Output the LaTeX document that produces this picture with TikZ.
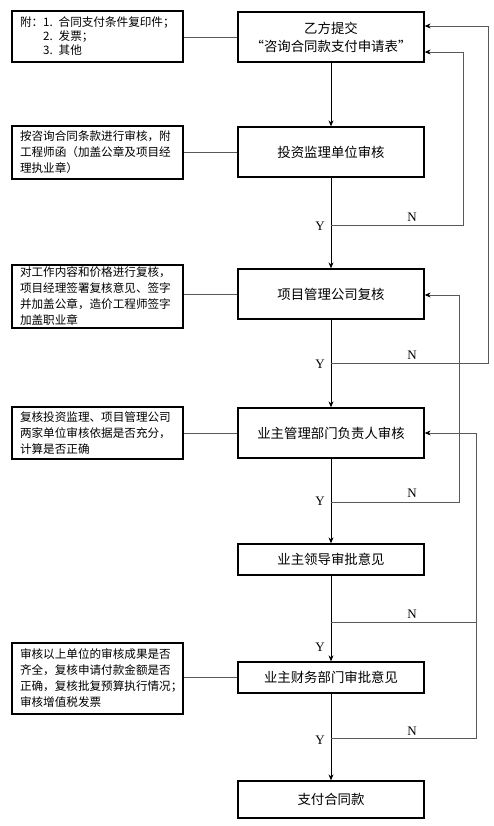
\documentclass[tikz,border=0pt]{standalone}
\usepackage{fontspec}
\setmainfont{Liberation Serif}
\newfontfamily\cjk{Noto Sans CJK SC}
\usetikzlibrary{arrows.meta,calc}
\hbadness=10000 \hfuzz=50pt
\begin{document}
\begin{tikzpicture}[x=1pt,y=-1pt,
 mainbox/.style={draw, line width=1.3pt, minimum width=186pt, inner sep=0pt, font=\cjk\fontsize{13.4}{18}\selectfont, align=center},
 notebox/.style={draw, line width=1.3pt, minimum width=171pt, text width=155pt, inner xsep=8pt, inner ysep=0pt, font=\cjk\fontsize{11.6}{16}\selectfont, align=left},
 flow/.style={line width=0.8pt, -{Stealth[length=6pt,width=5pt]}},
 back/.style={line width=0.7pt, draw=black!65, -{Stealth[length=6pt,width=5pt,color=black]}},
 backline/.style={line width=0.7pt, draw=black!65},
 tie/.style={line width=0.6pt, draw=black!65},
 lbl/.style={font=\fontsize{13}{13}\selectfont, inner sep=0pt}
]
\useasboundingbox (0,0) rectangle (493,826);

% main boxes
\node[mainbox, minimum height=50pt] (b1) at (331,37) {乙方提交\\“咨询合同款支付申请表”};
\node[mainbox, minimum height=50pt] (b2) at (331,152) {投资监理单位审核};
\node[mainbox, minimum height=50pt] (b3) at (331,294) {项目管理公司复核};
\node[mainbox, minimum height=50pt] (b4) at (331,433) {业主管理部门负责人审核};
\node[mainbox, minimum height=31pt] (b5) at (331,559.5) {业主领导审批意见};
\node[mainbox, minimum height=31pt] (b6) at (331,677.5) {业主财务部门审批意见};
\node[mainbox, minimum height=37pt] (b7) at (331,799.5) {支付合同款};

% note boxes
\node[notebox, minimum height=51pt, font=\cjk\fontsize{11.6}{14}\selectfont] (n1) at (97.5,36.5) {附：1. 合同支付条件复印件；\\\hphantom{附：}2. 发票；\\\hphantom{附：}3. 其他};
\node[notebox, minimum height=53pt] (n2) at (97.5,152.5) {按咨询合同条款进行审核，附\\工程师函（加盖公章及项目经\\理执业章）};
\node[notebox, minimum height=63pt] (n3) at (97.5,296.5) {对工作内容和价格进行复核，\\项目经理签署复核意见、签字\\并加盖公章，造价工程师签字\\加盖职业章};
\node[notebox, minimum height=52pt] (n4) at (97.5,433) {复核投资监理、项目管理公司\\两家单位审核依据是否充分，\\计算是否正确};
\node[notebox, minimum height=71pt] (n5) at (97.5,678.5) {审核以上单位的审核成果是否\\齐全，复核申请付款金额是否\\正确，复核批复预算执行情况；\\审核增值税发票};

% ties
\draw[tie] (n1.east |- b1.west) -- (b1.west);
\draw[tie] (n2.east |- b2.west) -- (b2.west);
\draw[tie] (n3.east |- b3.west) -- (b3.west);
\draw[tie] (n4.east |- b4.west) -- (b4.west);
\draw[tie] (n5.east |- b6.west) -- (b6.west);

% junctions
\coordinate (j1) at (331,225);
\coordinate (j2) at (331,363);
\coordinate (j3) at (331,502);
\coordinate (j4) at (331,622);
\coordinate (j5) at (331,738);
\coordinate (c4) at (476,622);

% main flow
\draw[flow] (b1) -- (b2);
\draw[flow] (b2) -- (b3);
\draw[flow] (b3) -- (b4);
\draw[flow] (b4) -- (b5);
\draw[flow] (b5) -- (b6);
\draw[flow] (b6) -- (b7);

% feedback
\draw[back] (j1) -| ($(b1.east)+(39,15)$) -- ($(b1.east)+(0,15)$);
\draw[back] (j2) -| ($(b1.east)+(64,-11)$) -- ($(b1.east)+(0,-11)$);
\draw[back] (j3) -| ($(b3.east)+(35,1)$) -- ($(b3.east)+(0,1)$);
\draw[back] (j4) -- (c4) -- (c4 |- b4.east) -- (b4.east);
\draw[backline] (j5) -| (c4);

% labels
\node[lbl] (y1) at (320,226) {Y};
\node[lbl] (m1) at (412,217) {N};
\node[lbl] (y2) at (320,364) {Y};
\node[lbl] (m2) at (412,355) {N};
\node[lbl] (y3) at (320,501) {Y};
\node[lbl] (m3) at (412,493) {N};
\node[lbl] (m4) at (412,614) {N};
\node[lbl] (y4) at (320,647) {Y};
\node[lbl] (m5) at (412,731) {N};
\node[lbl] (y5) at (320,740) {Y};
\end{tikzpicture}
\end{document}
